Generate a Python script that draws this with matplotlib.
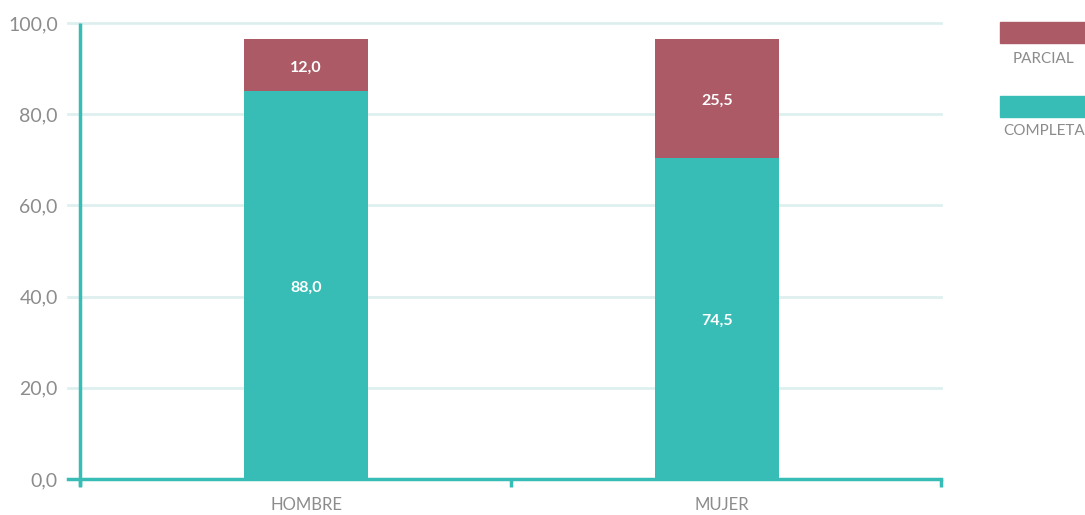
import matplotlib.pyplot as plt
import numpy as np

# data
categories = ['HOMBRE', 'MUJER']
completa_height = [85.0, 70.4]
parcial_height = [11.6, 26.1]
completa_label = ['88,0', '74,5']
parcial_label = ['12,0', '25,5']
yticks = [0, 20, 40, 60, 80, 100]

teal = '#37BDB5'
red = '#AC5A66'
grid = '#DDF0EF'
grey = '#8c8c8c'

plt.rcParams['font.family'] = ['Lato', 'DejaVu Sans']

fig = plt.figure(figsize=(10.85, 5.15), dpi=100)
ax = fig.add_axes([80 / 1085, 36 / 515, 861 / 1085, 456 / 515])

# bars sit a little inward from the category centres
x = np.arange(len(categories)) + np.array([0.025, -0.02])
w = 0.288
ax.bar(x, completa_height, w, color=teal, zorder=3)
ax.bar(x, parcial_height, w, bottom=completa_height, color=red, zorder=3)

for i in range(len(categories)):
    ax.text(x[i], completa_height[i] / 2 - 0.6, completa_label[i], ha='center', va='center',
            color='white', fontsize=11.5, fontweight='bold', zorder=4)
    ax.text(x[i], completa_height[i] + parcial_height[i] / 2 - 0.6, parcial_label[i],
            ha='center', va='center', color='white', fontsize=11.5, fontweight='bold', zorder=4)

ax.set_xlim(-0.5, 1.5)
ax.set_ylim(0, 100)

# gridlines, stretched a bit left of the axis
for t in yticks[1:]:
    ax.plot([-0.528, 1.5], [t, t], color=grid, lw=2, zorder=1, clip_on=False)
ax.plot([-0.528, 1.5], [0, 0], color=teal, lw=2.5, zorder=5, clip_on=False)
ax.plot([-0.5, -0.5], [-1.5, 100], color=teal, lw=2.5, zorder=5, clip_on=False,
        solid_capstyle='butt')

for s in ax.spines.values():
    s.set_visible(False)

ax.set_yticks(yticks)
ax.set_yticklabels([f'{t:.1f}'.replace('.', ',') for t in yticks])
ax.tick_params(axis='y', length=0, pad=16, labelsize=14, labelcolor=grey)

ax.set_xticks([-0.5, 0.5, 1.5])
ax.set_xticklabels([])
ax.tick_params(axis='x', which='major', length=6, width=2.5, color=teal)
ax.set_xticks(x + np.array([0.0, 0.012]), minor=True)
ax.set_xticklabels(categories, minor=True)
ax.tick_params(axis='x', which='minor', length=0, pad=13, labelsize=12, labelcolor=grey)

# legend drawn by hand at the right
fig.patches.append(plt.Rectangle((1000 / 1085, 472 / 515), 85 / 1085, 21 / 515,
                                 transform=fig.transFigure, color=red))
fig.patches.append(plt.Rectangle((1000 / 1085, 398 / 515), 85 / 1085, 21 / 515,
                                 transform=fig.transFigure, color=teal))
fig.text(1044 / 1085, 1 - 59 / 515, 'PARCIAL', ha='center', va='center', color=grey,
         fontsize=11)
fig.text(1044 / 1085, 1 - 131 / 515, 'COMPLETA', ha='center', va='center', color=grey,
         fontsize=11)

fig.savefig('out.png', dpi=100, facecolor='white')
